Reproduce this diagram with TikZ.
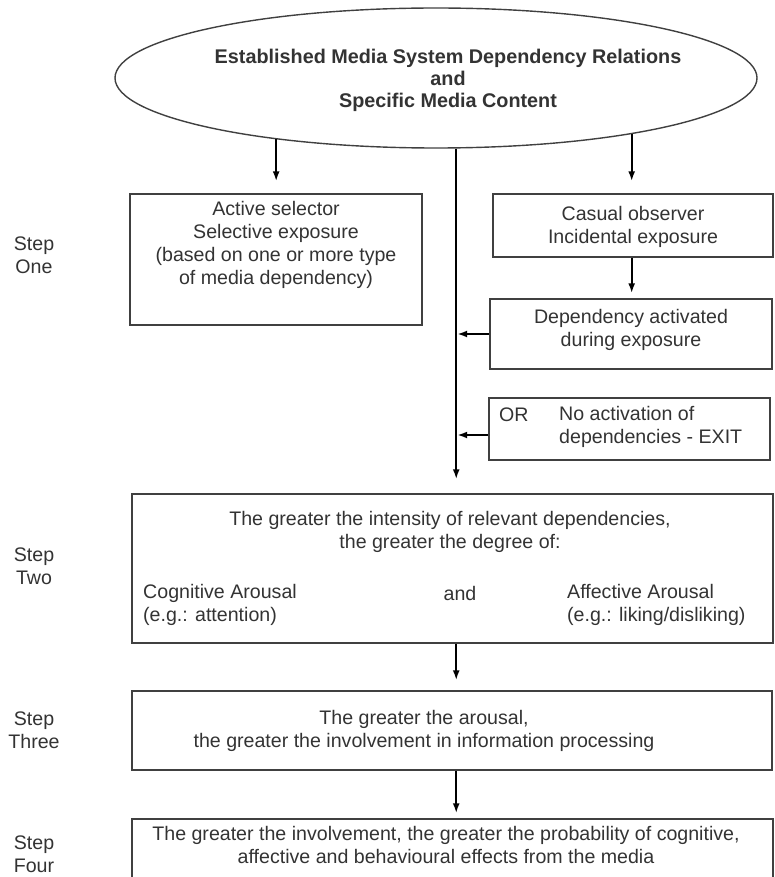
\documentclass[tikz,border=0pt]{standalone}
\usepackage{fontspec}
\setmainfont{Liberation Sans}
\usetikzlibrary{shapes.geometric,arrows.meta}
\begin{document}
\begin{tikzpicture}[x=1pt,y=-1pt,
  txt/.style={font=\fontsize{19.6}{23}\selectfont, text=black!80, inner sep=0pt, align=center},
  boxx/.style={draw=black!75, line width=1.4pt, inner sep=0pt},
  arr/.style={draw=black, line width=2pt, -{Latex[length=10pt,width=7pt]}},
]
\useasboundingbox (0,0) rectangle (774,877);
\clip (0,0) rectangle (774,877);

% ellipse
\node[draw=black!75, line width=1.4pt, ellipse, minimum width=642pt, minimum height=140pt, inner sep=0pt] (ell) at (436,78) {};
\node[txt, font=\bfseries\fontsize{19.8}{22}\selectfont] (elltxt) at (448,80)
  {Established Media System Dependency Relations\\and\\Specific Media Content};

% boxes
\node[boxx, minimum width=292pt, minimum height=131pt] (active) at (276,259.5) {};
\node[boxx, minimum width=280pt, minimum height=63pt] (casual) at (633,225.5) {};
\node[boxx, minimum width=282pt, minimum height=70pt] (dep) at (631,334) {};
\node[boxx, minimum width=281pt, minimum height=62pt] (orbox) at (629.5,429) {};
\node[boxx, minimum width=641pt, minimum height=149pt] (two) at (452.5,568.5) {};
\node[boxx, minimum width=640pt, minimum height=79pt] (three) at (452,730.5) {};
\node[boxx, minimum width=641pt, minimum height=61pt] (four) at (452.5,849.5) {};

% box texts
\node[txt] (acttxt) at (276,245) {Active selector\\Selective exposure\\(based on one or more type\\of media dependency)};
\node[txt] (castxt) at (633,227) {Casual observer\\Incidental exposure};
\node[txt] (deptxt) at (631,330) {Dependency activated\\during exposure};
\node[txt, anchor=west] (ortxt) at (499,415) {OR};
\node[txt, anchor=west, align=left] (noact) at (559,427) {No activation of\\dependencies - EXIT};
\node[txt] (twotxt) at (450,532) {The greater the intensity of relevant dependencies,\\the greater the degree of:};
\node[txt, anchor=west, align=left] (cog) at (143,605) {Cognitive Arousal\\(e.g.: attention)};
\node[txt] (andtxt) at (460,593) {and};
\node[txt, anchor=west, align=left] (aff) at (567,605) {Affective Arousal\\(e.g.: liking/disliking)};
\node[txt] (threetxt) at (424,731) {The greater the arousal,\\the greater the involvement in information processing};
\node[txt] (fourtxt) at (446,845) {The greater the involvement, the greater the probability of cognitive,\\affective and behavioural effects from the media};

% step labels
\node[txt] (s1) at (34,255) {Step\\One};
\node[txt] (s2) at (34,566) {Step\\Two};
\node[txt] (s3) at (34,730) {Step\\Three};
\node[txt] (s4) at (34,854) {Step\\Four};

% connectors
\draw[arr, shorten >=12pt] (ell.201) -- (ell.201 |- active.north);
\draw[arr, shorten >=12pt] (ell.344.6) -- (ell.344.6 |- casual.north);
\draw[arr, line width=2.5pt, shorten >=14pt] (ell.286.7) -- (ell.286.7 |- two.north);
\draw[arr, shorten >=5pt] (ell.344.6 |- casual.south) -- (ell.344.6 |- dep.north);
\draw[arr, shorten >=1pt] (dep.west) -- (dep.west -| ell.286.7);
\draw[arr, shorten >=1pt] ([yshift=-6pt]orbox.west) -- ([yshift=-6pt]orbox.west -| ell.286.7);
\draw[arr, shorten >=10pt] (ell.286.7 |- two.south) -- (ell.286.7 |- three.north);
\draw[arr, shorten >=5pt] (ell.286.7 |- three.south) -- (ell.286.7 |- four.north);
\end{tikzpicture}
\end{document}
